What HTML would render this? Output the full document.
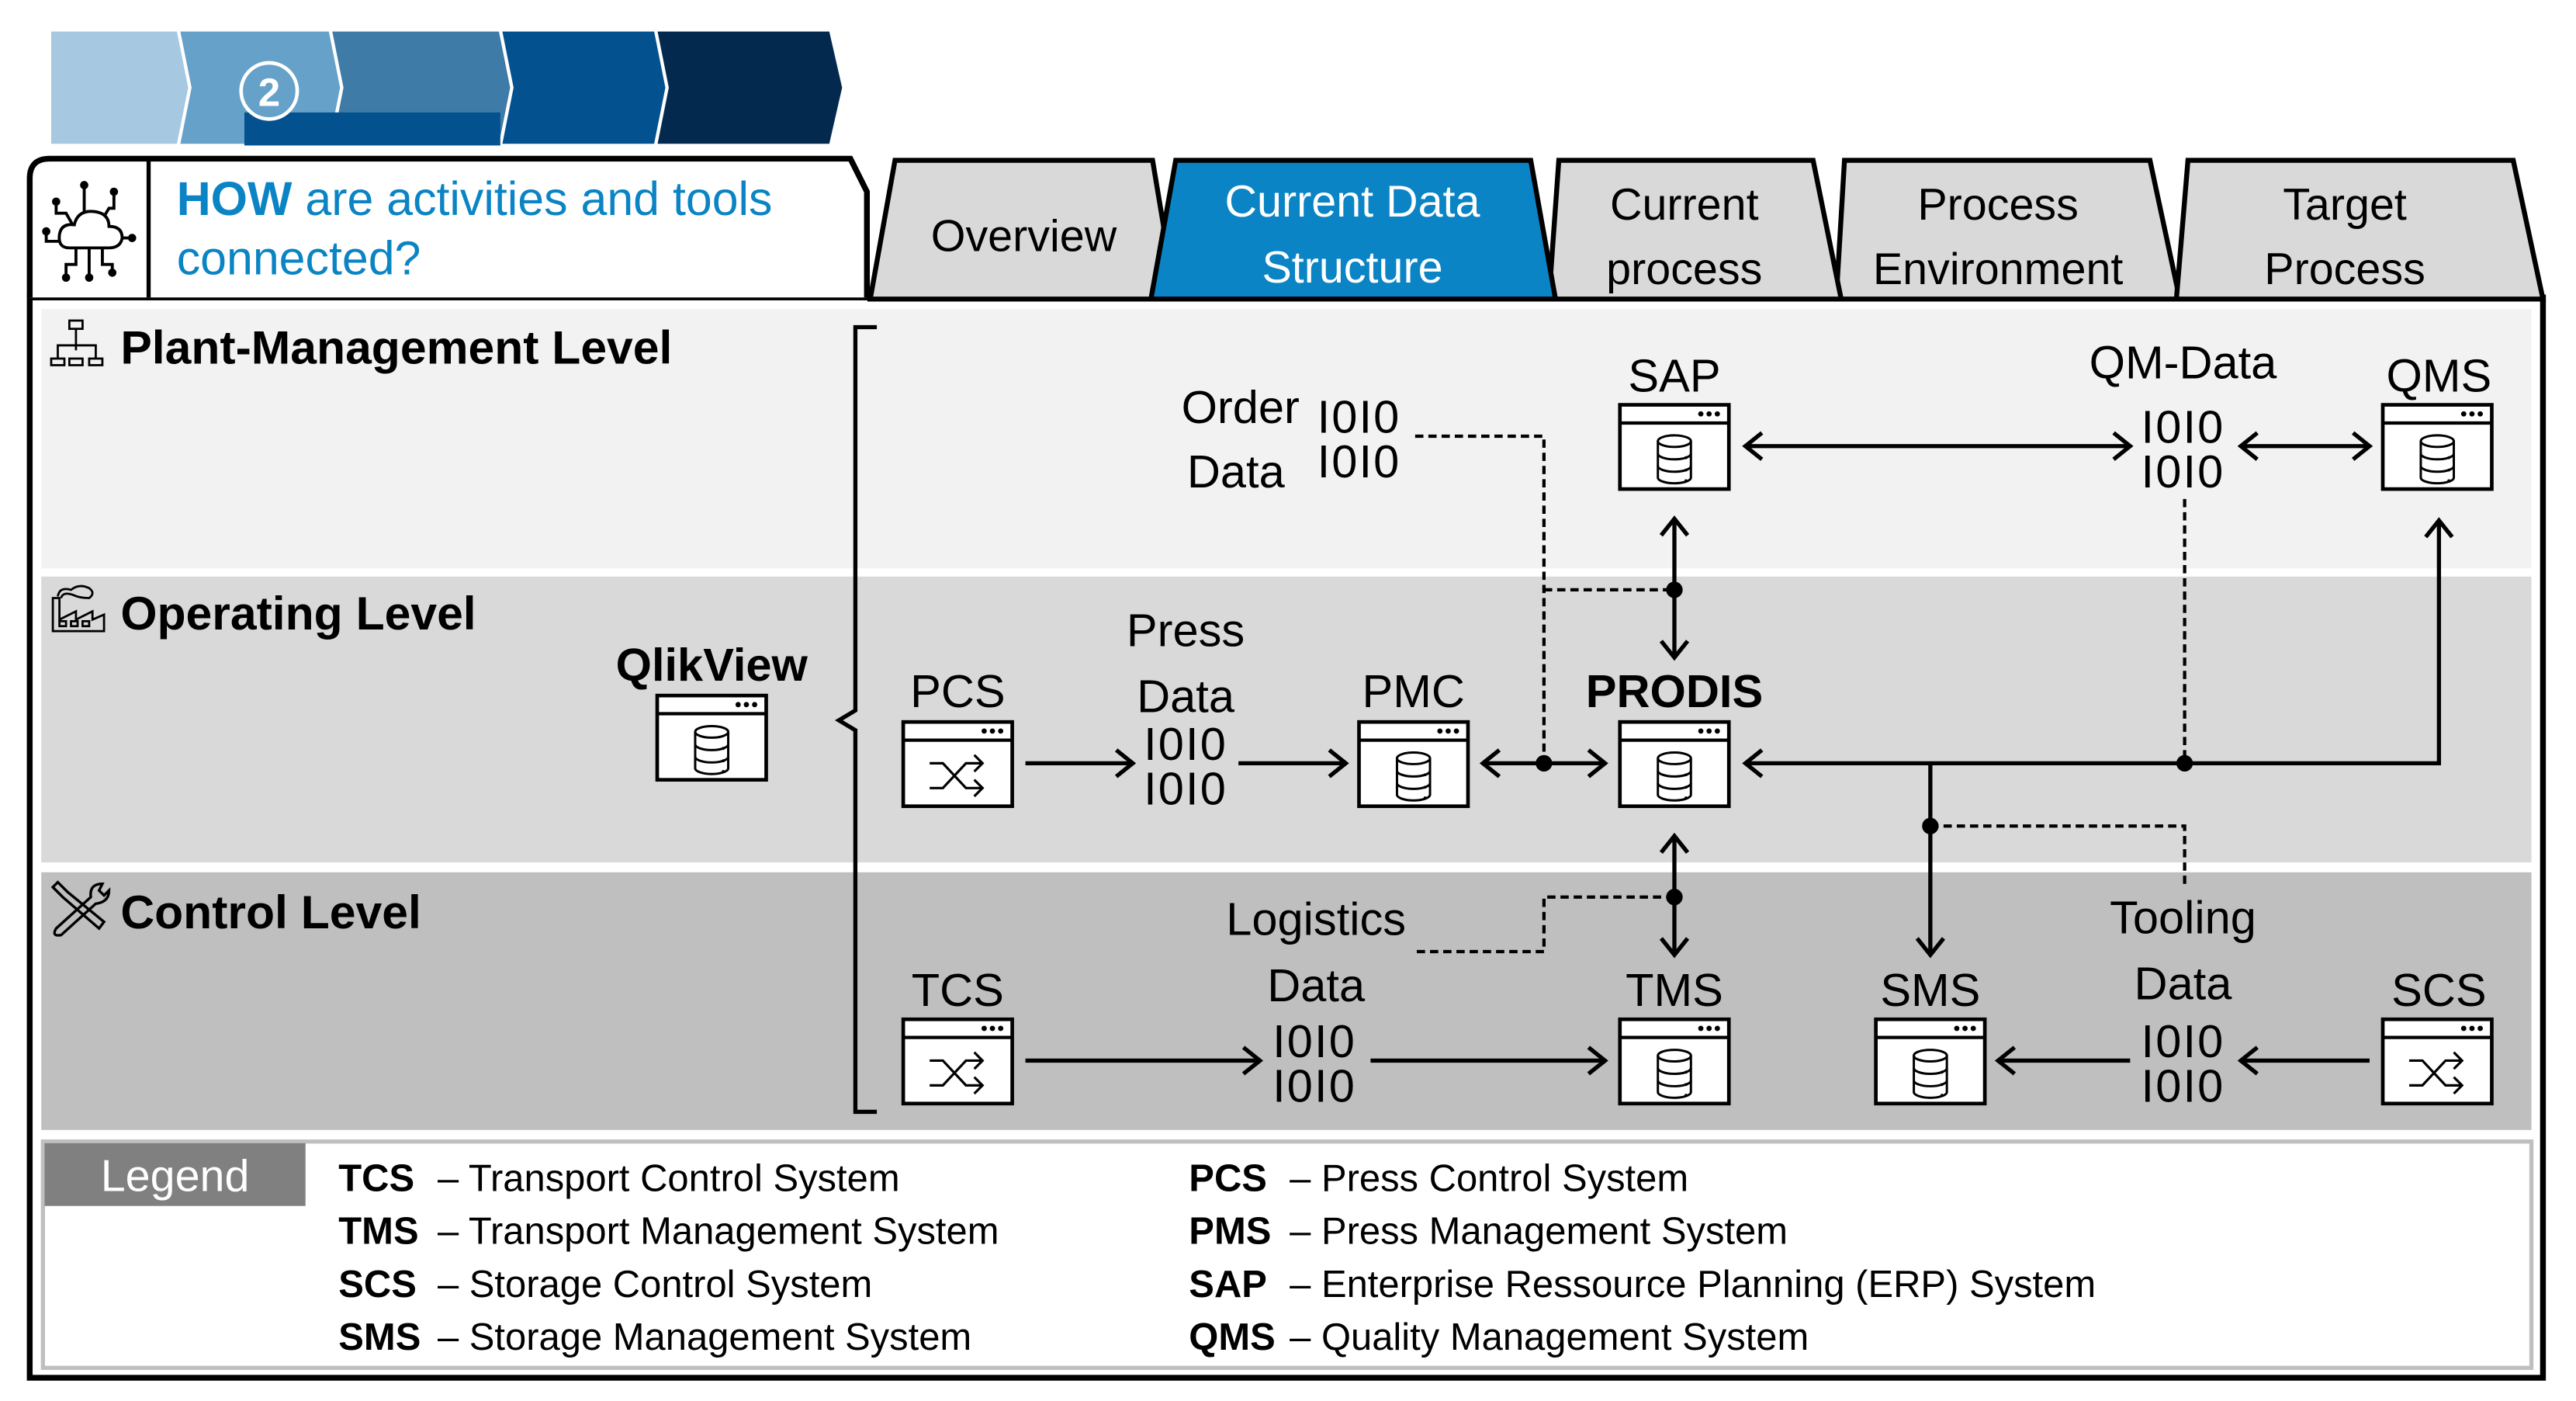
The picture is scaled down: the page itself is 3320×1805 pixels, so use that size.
<!DOCTYPE html>
<html><head><meta charset="utf-8"><style>
html,body{margin:0;padding:0;background:#fff;}
svg{display:block;}
text{font-family:"Liberation Sans",sans-serif;}
</style></head><body>
<svg width="3320" height="1805" viewBox="0 0 1560 848" xmlns="http://www.w3.org/2000/svg">
<defs>
<marker id="ar" markerUnits="userSpaceOnUse" markerWidth="16" markerHeight="20" refX="11" refY="10" orient="auto-start-reverse" viewBox="0 0 16 20">
<path d="M1,2 L11,10 L1,18" fill="none" stroke="#000" stroke-width="2.5"/>
</marker>
<g id="win">
<rect x="0" y="0" width="66" height="51" fill="#fff" stroke="#000" stroke-width="2.2"/>
<line x1="0" y1="11" x2="66" y2="11" stroke="#000" stroke-width="2"/>
<circle cx="49" cy="5.5" r="1.6"/><circle cx="54" cy="5.5" r="1.6"/><circle cx="59" cy="5.5" r="1.6"/>
</g>
<g id="db">
<use href="#win"/>
<g fill="none" stroke="#000" stroke-width="1.4">
<ellipse cx="33" cy="22" rx="10" ry="3.5"/>
<path d="M23,22 V44 A10,3.5 0 0 0 43,44 V22"/>
<path d="M23,29.5 A10,3.5 0 0 0 43,29.5"/>
<path d="M23,37 A10,3.5 0 0 0 43,37"/>
</g>
<circle cx="40" cy="32" r="0.9"/><circle cx="40" cy="39.5" r="0.9"/><circle cx="40" cy="46" r="0.9"/>
</g>
<g id="sh">
<use href="#win"/>
<g fill="none" stroke="#000" stroke-width="1.5">
<path d="M16,25 H24 L38,40 H48"/>
<path d="M16,40 H24 L38,25 H48"/>
<path d="M43,20 L48,25 L43,30"/>
<path d="M43,35 L48,40 L43,45"/>
</g>
</g>
</defs>

<!-- banner -->
<g stroke="#fff" stroke-width="2">
<polygon points="30,18 108,18 115,53 108,88 30,88" fill="#a6c8e0"/>
<polygon points="108,18 200,18 207,53 200,88 108,88 115,53" fill="#66a1c9"/>
<polygon points="200,18 303,18 310,53 303,88 200,88 207,53" fill="#3e7ba7"/>
<polygon points="303,18 397,18 404,53 397,88 303,88 310,53" fill="#03528f"/>
<polygon points="397,18 503,18 511,53 503,88 397,88 404,53" fill="#032a4e"/>
</g>
<rect x="148" y="68" width="155" height="20" fill="#03528f"/>
<circle cx="163" cy="55" r="17" fill="#66a1c9" stroke="#fff" stroke-width="2.2"/>
<text x="163" y="64" font-size="24" font-weight="bold" fill="#fff" text-anchor="middle">2</text>

<!-- frame -->
<rect x="18" y="180" width="1522" height="654" fill="#fff" stroke="#000" stroke-width="3.5"/>
<path d="M18,180 V108 Q18,96 30,96 H515 L525,116 V180" fill="#fff" stroke="#000" stroke-width="3.5"/>
<line x1="90" y1="96" x2="90" y2="180" stroke="#000" stroke-width="2.5"/>
<text x="107" y="130" font-size="28.6" fill="#0a84c4"><tspan font-weight="bold">HOW</tspan> are activities and tools</text>
<text x="107" y="166" font-size="28.6" fill="#0a84c4">connected?</text>
<!-- cloud icon -->
<g fill="none" stroke="#000" stroke-width="1.8">
<path d="M42,150 Q35,150 36,142 Q37,135 45,136 Q47,127 57,128 Q66,129 66,137 Q74,137 74,144 Q73,150 66,150 Z"/>
<path d="M51,128 V112 M63,131 L66,126 H69 V116 M44,136 L40,129 H34 V122 M36,146 H28 V140 M74,144 H79 M46,150 V160 H40 V168 M54,150 V168 M62,150 V160 H68 V164"/>
</g>
<g fill="#000"><circle cx="51" cy="112" r="2.5"/><circle cx="69" cy="116" r="2.5"/><circle cx="34" cy="122" r="2.5"/><circle cx="28" cy="140" r="2.5"/><circle cx="80" cy="144" r="2.5"/><circle cx="40" cy="168" r="2.5"/><circle cx="54" cy="168" r="2.5"/><circle cx="68" cy="165" r="2.5"/></g>

<!-- tabs -->
<g stroke="#000" stroke-width="3">
<polygon points="527,181 542,97 698,97 712,181" fill="#d9d9d9"/>
<polygon points="1112,181 1117,97 1302,97 1320,181" fill="#d9d9d9"/>
<polygon points="1318,181 1325,97 1522,97 1540,181" fill="#d9d9d9"/>
<polygon points="938,181 944,97 1098,97 1115,181" fill="#d9d9d9"/>
<polygon points="697,181 712,97 927,97 942,181" fill="#0a84c4"/>
</g>
<g font-size="27" text-anchor="middle">
<text x="620" y="152">Overview</text>
<text x="819" y="131" fill="#fff">Current Data</text>
<text x="819" y="171" fill="#fff">Structure</text>
<text x="1020" y="133">Current</text>
<text x="1020" y="172">process</text>
<text x="1210" y="133">Process</text>
<text x="1210" y="172">Environment</text>
<text x="1420" y="133">Target</text>
<text x="1420" y="172">Process</text>
</g>

<!-- bands -->
<rect x="25" y="187" width="1508" height="157" fill="#f2f2f2"/>
<rect x="25" y="349" width="1508" height="173" fill="#d9d9d9"/>
<rect x="25" y="528" width="1508" height="156" fill="#bfbfbf"/>

<g font-size="28.5" font-weight="bold">
<text x="73" y="220">Plant-Management Level</text>
<text x="73" y="381">Operating Level</text>
<text x="73" y="562">Control Level</text>
</g>
<!-- level icons -->
<g fill="none" stroke="#000" stroke-width="1.3">
<rect x="42" y="194" width="8" height="5"/><path d="M46,199 V212 M35,217 V209 H58 V217"/>
<rect x="31" y="217" width="8" height="4"/><rect x="42" y="217" width="8" height="4"/><rect x="54" y="217" width="8" height="4"/>
<path d="M32,382 V362 H36 V375 L46,370 V375 L56,370 V375 L63,372 V382 Z"/>
<path d="M35,361 Q36,355 43,357 Q48,353 54,356 Q58,359 54,362 Q48,362 44,360 Q38,358 37,362"/>
<rect x="36" y="376" width="4" height="3"/><rect x="43" y="376" width="4" height="3"/><rect x="50" y="376" width="4" height="3"/>
<path d="M32,537 L38,543 L60,562 L63,558 L41,540 L35,534 Z" stroke-width="1.6"/>
<path d="M34,562 L55,543 Q54,535 62,535 L60,539 L63,542 L66,539 Q66,546 58,547 L37,566 Q31,567 34,562 Z" stroke-width="1.6"/>
</g>

<!-- brace -->
<path d="M531,198 H518 V430 L508,436 L518,442 V673 H531" fill="none" stroke="#000" stroke-width="2.5"/>

<!-- nodes -->
<use href="#db" x="398" y="421"/>
<use href="#db" x="981" y="245"/>
<use href="#db" x="1443" y="245"/>
<use href="#sh" x="547" y="437"/>
<use href="#db" x="823" y="437"/>
<use href="#db" x="981" y="437"/>
<use href="#sh" x="547" y="617"/>
<use href="#db" x="981" y="617"/>
<use href="#db" x="1136" y="617"/>
<use href="#sh" x="1443" y="617"/>

<g font-size="28" text-anchor="middle">
<text x="431" y="412" font-weight="bold">QlikView</text>
<text x="1014" y="237">SAP</text>
<text x="1477" y="237">QMS</text>
<text x="1322" y="229">QM-Data</text>
<text x="580" y="428">PCS</text>
<text x="856" y="428">PMC</text>
<text x="1014" y="428" font-weight="bold">PRODIS</text>
<text x="718" y="391">Press</text>
<text x="718" y="431">Data</text>
<text x="580" y="609">TCS</text>
<text x="1014" y="609">TMS</text>
<text x="1169" y="609">SMS</text>
<text x="1477" y="609">SCS</text>
<text x="797" y="566">Logistics</text>
<text x="797" y="606">Data</text>
<text x="1322" y="565">Tooling</text>
<text x="1322" y="605">Data</text>
<text x="787" y="256" text-anchor="end">Order</text>
<text x="778" y="295" text-anchor="end">Data</text>
</g>
<g font-size="28" text-anchor="middle" font-family="Liberation Sans Narrow, Liberation Sans, sans-serif" letter-spacing="1">
<text x="823" y="262">I0I0</text><text x="823" y="289">I0I0</text>
<text x="1322" y="268">I0I0</text><text x="1322" y="295">I0I0</text>
<text x="718" y="460">I0I0</text><text x="718" y="487">I0I0</text>
<text x="796" y="640">I0I0</text><text x="796" y="667">I0I0</text>
<text x="1322" y="640">I0I0</text><text x="1322" y="667">I0I0</text>
</g>

<!-- connectors -->
<g fill="none" stroke="#000" stroke-width="2.5">
<line x1="1057" y1="270" x2="1290" y2="270" marker-start="url(#ar)" marker-end="url(#ar)"/>
<line x1="1357" y1="270" x2="1435" y2="270" marker-start="url(#ar)" marker-end="url(#ar)"/>
<line x1="1014" y1="314" x2="1014" y2="398" marker-start="url(#ar)" marker-end="url(#ar)"/>
<line x1="621" y1="462" x2="686" y2="462" marker-end="url(#ar)"/>
<line x1="750" y1="462" x2="815" y2="462" marker-end="url(#ar)"/>
<line x1="898" y1="462" x2="972" y2="462" marker-start="url(#ar)" marker-end="url(#ar)"/>
<polyline points="1057,462 1477,462 1477,315" marker-start="url(#ar)" marker-end="url(#ar)"/>
<line x1="1169" y1="462" x2="1169" y2="578" marker-end="url(#ar)"/>
<line x1="1014" y1="506" x2="1014" y2="578" marker-start="url(#ar)" marker-end="url(#ar)"/>
<line x1="621" y1="642" x2="763" y2="642" marker-end="url(#ar)"/>
<line x1="830" y1="642" x2="972" y2="642" marker-end="url(#ar)"/>
<line x1="1435" y1="642" x2="1357" y2="642" marker-end="url(#ar)"/>
<line x1="1290" y1="642" x2="1210" y2="642" marker-end="url(#ar)"/>
</g>
<g fill="none" stroke="#000" stroke-width="2" stroke-dasharray="5,3">
<polyline points="857,264 935,264 935,462"/>
<line x1="935" y1="357" x2="1014" y2="357"/>
<line x1="1323" y1="302" x2="1323" y2="462"/>
<polyline points="1169,500 1323,500 1323,536"/>
<polyline points="1014,543 935,543 935,576 855,576"/>
</g>
<g fill="#000">
<circle cx="1014" cy="357" r="5"/><circle cx="935" cy="462" r="5"/><circle cx="1323" cy="462" r="5"/>
<circle cx="1169" cy="500" r="5"/><circle cx="1014" cy="543" r="5"/>
</g>

<!-- legend -->
<rect x="26" y="691" width="1507" height="137" fill="#fff" stroke="#bfbfbf" stroke-width="2.5"/>
<rect x="27" y="692" width="158" height="38" fill="#808080"/>
<text x="106" y="721" font-size="27" fill="#fff" text-anchor="middle">Legend</text>
<g font-size="23">
<text x="205" y="721"><tspan font-weight="bold">TCS</tspan><tspan x="265">– Transport Control System</tspan></text>
<text x="205" y="753"><tspan font-weight="bold">TMS</tspan><tspan x="265">– Transport Management System</tspan></text>
<text x="205" y="785"><tspan font-weight="bold">SCS</tspan><tspan x="265">– Storage Control System</tspan></text>
<text x="205" y="817"><tspan font-weight="bold">SMS</tspan><tspan x="265">– Storage Management System</tspan></text>
<text x="720" y="721"><tspan font-weight="bold">PCS</tspan><tspan x="781">– Press Control System</tspan></text>
<text x="720" y="753"><tspan font-weight="bold">PMS</tspan><tspan x="781">– Press Management System</tspan></text>
<text x="720" y="785"><tspan font-weight="bold">SAP</tspan><tspan x="781">– Enterprise Ressource Planning (ERP) System</tspan></text>
<text x="720" y="817"><tspan font-weight="bold">QMS</tspan><tspan x="781">– Quality Management System</tspan></text>
</g>
</svg>
</body></html>
